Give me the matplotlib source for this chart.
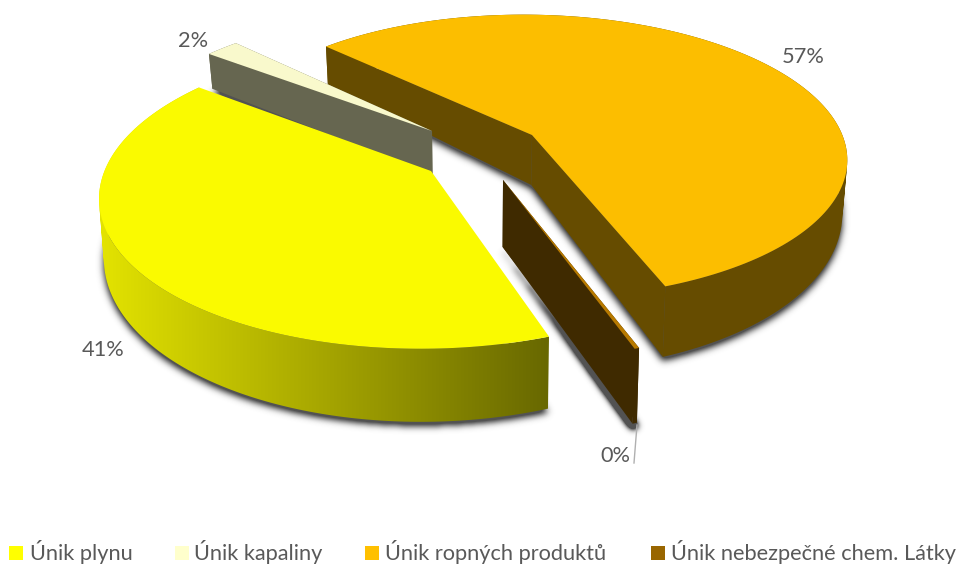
import numpy as np
import matplotlib
matplotlib.use("Agg")
import matplotlib.pyplot as plt
from matplotlib.patches import PathPatch, Polygon, Rectangle
from matplotlib.path import Path

# Chart data
labels = ["Únik plynu", "Únik kapaliny", "Únik ropných produktů", "Únik nebezpečné chem. Látky"]
values = [40.8, 2.0, 57.0, 0.2]
top_colors = ["#FAFA00", "#F9F9CC", "#FCBE00", "#B87A00"]
side_colors = [None, "#666650", "#664C00", "#3F2A00"]
legend_colors = ["#FFFF00", "#FFFFCC", "#FFC000", "#996600"]

# Where each slice sits on the pie plane (exploded centres)
centers = [(-0.1185, -0.0098), (-0.1151, 0.2688), (0.205, 0.2325), (0.1011, -0.0747)]
# Side wall height per slice: height at y=0, growth per pixel of y
wall_h = [(42.4, 0.088), (28.5, 0.118), (31.6, 0.136), (58.5, 0.047)]
shadow_gain = [1.4, 1.6, 1.4, 6.0]
draw_order = [2, 1, 3, 0]

# Camera fitted to the picture
CAM = np.array([[1.079, -0.0194, 0.0016], [-0.026, -1.0046, -0.006], [-0.0051, 0.1574, 1.0]])
CAM_INV = np.linalg.inv(CAM)
START_ANGLE = np.radians(-72)
W, H = 963, 565


def project(x, y):
    pts = CAM_INV @ np.vstack([x, y, np.ones_like(x)])
    return np.c_[pts[0] / pts[2] * 350 + 470, pts[1] / pts[2] * 150 + 170]


def drop(pts, i):
    """Bottom edge of a wall below top surface points."""
    h0, slope = wall_h[i]
    out = pts.copy()
    out[:, 0] += (470 - pts[:, 0]) * 0.013
    out[:, 1] += h0 + slope * pts[:, 1]
    return out


def wall_path(arc, arc_low):
    """Union of the wall's quads, so the tangent edges get filled too."""
    quads = []
    for k in range(len(arc) - 1):
        q = np.vstack([arc[k], arc[k + 1], arc_low[k + 1], arc_low[k], arc[k]])
        area = np.sum(q[:-1, 0] * q[1:, 1] - q[1:, 0] * q[:-1, 1])
        quads.append(Path(q if area > 0 else q[::-1], closed=True))
    return Path.make_compound_path(*quads)


def gaussian(mask, sigma):
    ky = np.fft.fftfreq(mask.shape[0])[:, None]
    kx = np.fft.rfftfreq(mask.shape[1])[None, :]
    damp = np.exp(-2 * (np.pi * sigma) ** 2 * (kx ** 2 + ky ** 2))
    return np.fft.irfft2(np.fft.rfft2(mask) * damp, s=mask.shape)


def draw_shadow(ax, footprint, gain, z):
    # only the underside casts a soft shadow, the top edge stays clean
    yy, xx = np.mgrid[0:H, 0:W]
    grid = np.c_[xx.ravel() + 0.5, yy.ravel() + 0.5 - 4]
    mask = Path(footprint).contains_points(grid).reshape(H, W)
    blur = gaussian(mask.astype(float), 3.5)
    rgba = np.zeros((H, W, 4))
    rgba[..., :3] = 0.2
    rgba[..., 3] = np.clip(blur * gain, 0, 1) * 0.85
    ax.imshow(rgba, extent=(0, W, H, 0), zorder=z, interpolation="nearest", aspect="auto")


fig = plt.figure(figsize=(W / 100, H / 100), dpi=100)
ax = fig.add_axes([0, 0, 1, 1])

shares = np.array(values) / sum(values) * 2 * np.pi
starts = START_ANGLE - np.r_[0, np.cumsum(shares)[:-1]]

z = 1
for i in draw_order:
    th = np.linspace(starts[i], starts[i] - shares[i], 160)
    cx, cy = centers[i]
    arc = project(cx + np.cos(th), cy + np.sin(th))
    apex = project(np.array([cx]), np.array([cy]))
    arc_low = drop(arc, i)
    apex_low = drop(apex, i)

    top = np.vstack([apex, arc])
    wall = wall_path(arc, arc_low)
    face_a = np.vstack([apex, arc[:1], arc_low[:1], apex_low])
    face_b = np.vstack([apex, arc[-1:], arc_low[-1:], apex_low])

    draw_shadow(ax, np.vstack([apex_low, arc_low]), shadow_gain[i], z)
    z += 1

    if side_colors[i] is None:
        # yellow slice: wall fades left to right, cut faces stay hidden
        x0, x1 = arc[:, 0].min() - 2, arc_low[:, 0].max() + 1
        fade = np.linspace(0, 1, 256)[None, :, None]
        img = (np.array([228, 228, 0]) * (1 - fade) + np.array([104, 104, 0]) * fade) / 255
        im = ax.imshow(img, extent=(x0, x1, H, 0), zorder=z, aspect="auto")
        clip = PathPatch(wall, transform=ax.transData, facecolor="none", edgecolor="none")
        ax.add_patch(clip)
        im.set_clip_path(clip)
    else:
        ax.add_patch(PathPatch(wall, facecolor=side_colors[i], edgecolor="none", zorder=z))
        for poly in (face_a, face_b):
            ax.add_patch(Polygon(poly, facecolor=side_colors[i], edgecolor="none", zorder=z))
    z += 1
    ax.add_patch(Polygon(top, facecolor=top_colors[i], edgecolor="none", zorder=z))
    z += 1

# Data labels
TEXT = "#595959"
font = ["Lato", "DejaVu Sans"]
pct_pos = [(103, 350), (193, 41), (803, 57), (615, 456)]
for v, (x, y) in zip(values, pct_pos):
    ax.text(x, y, f"{v / sum(values) * 100:.0f}%", ha="center", va="center", color=TEXT,
            fontsize=15.7, family=font, zorder=z)
ax.plot([637, 634], [425, 463], color="#B0B0B0", lw=1, zorder=z)

# Legend
swatch_x = [9, 175, 365, 651]
text_x = [30, 194, 385, 671]
for lab, col, sx, tx in zip(labels, legend_colors, swatch_x, text_x):
    ax.add_patch(Rectangle((sx, 546), 14, 14, facecolor=col, edgecolor="none", zorder=z))
    ax.text(tx, 552, lab, ha="left", va="center", color=TEXT, fontsize=15.7, family=font, zorder=z)

ax.set_xlim(0, W)
ax.set_ylim(H, 0)
ax.axis("off")
fig.savefig("out.png", dpi=100, facecolor="white")
